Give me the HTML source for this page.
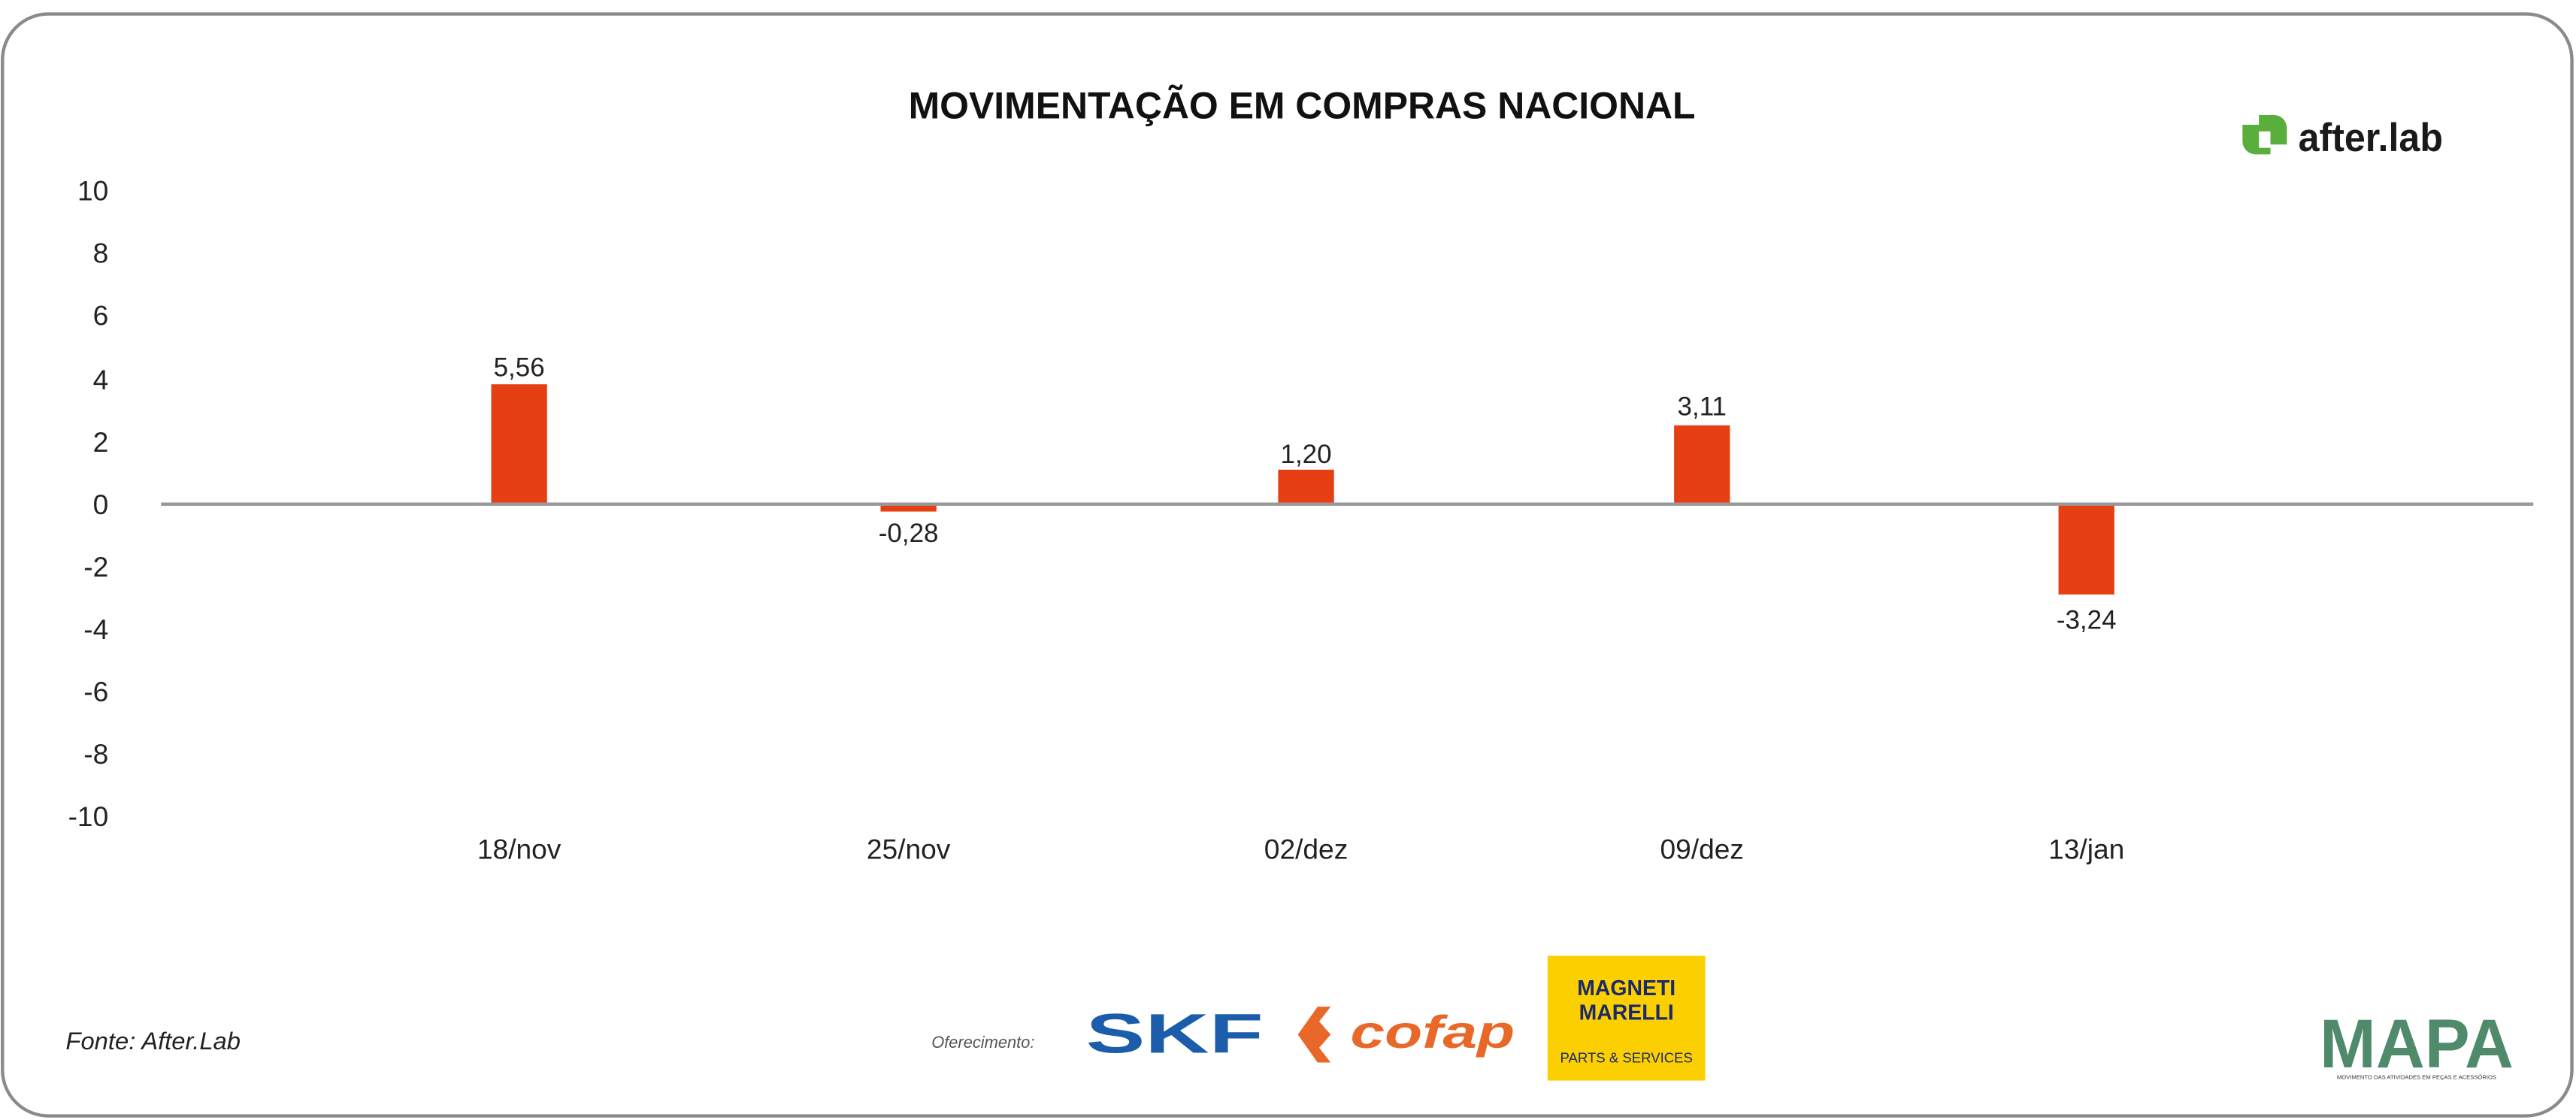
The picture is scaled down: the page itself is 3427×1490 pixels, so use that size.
<!DOCTYPE html>
<html><head><meta charset="utf-8"><style>
html,body{margin:0;padding:0;background:#fff;}
svg{display:block;}
text{font-family:"Liberation Sans",sans-serif;}
</style></head><body>
<svg width="3427" height="1490" viewBox="0 0 1568 682" preserveAspectRatio="none" xmlns="http://www.w3.org/2000/svg">
<rect x="1.5" y="8.5" width="1564" height="671" rx="28" ry="28" fill="#fff" stroke="#8a8a8a" stroke-width="2"/>
<text x="553" y="72" textLength="479" lengthAdjust="spacingAndGlyphs" font-size="23" font-weight="bold" fill="#111">MOVIMENTAÇÃO EM COMPRAS NACIONAL</text>
<g>
<path d="M1365 76 h10 v-6 h9 a8 8 0 0 1 8 8 v10 h-10 v6 h-9 a8 8 0 0 1 -8 -8 z" fill="#5aae3c"/>
<rect x="1375" y="80" width="7" height="10" fill="#fff"/>
<text x="1399" y="92" textLength="88" lengthAdjust="spacingAndGlyphs" font-size="24" font-weight="bold" fill="#1a1a1a">after.lab</text>
</g>
<g font-size="17" fill="#222" text-anchor="end">
<text x="66" y="122">10</text>
<text x="66" y="160">8</text>
<text x="66" y="198">6</text>
<text x="66" y="237">4</text>
<text x="66" y="275">2</text>
<text x="66" y="313">0</text>
<text x="66" y="351">-2</text>
<text x="66" y="389">-4</text>
<text x="66" y="427">-6</text>
<text x="66" y="465">-8</text>
<text x="66" y="503">-10</text>
</g>
<g fill="#e53f13">
<rect x="299" y="234" width="34" height="73"/>
<rect x="536" y="307" width="34" height="4.5"/>
<rect x="778" y="286" width="34" height="21"/>
<rect x="1019" y="259" width="34" height="48"/>
<rect x="1253" y="307" width="34" height="55"/>
</g>
<line x1="98" y1="307" x2="1542" y2="307" stroke="#999" stroke-width="2"/>
<g font-size="16" fill="#222" text-anchor="middle">
<text x="316" y="229">5,56</text>
<text x="553" y="330">-0,28</text>
<text x="795" y="282">1,20</text>
<text x="1036" y="253">3,11</text>
<text x="1270" y="383">-3,24</text>
</g>
<g font-size="17" fill="#222" text-anchor="middle">
<text x="316" y="523">18/nov</text>
<text x="553" y="523">25/nov</text>
<text x="795" y="523">02/dez</text>
<text x="1036" y="523">09/dez</text>
<text x="1270" y="523">13/jan</text>
</g>
<text x="40" y="639" font-size="15" font-style="italic" fill="#222">Fonte: After.Lab</text>
<text x="567" y="638" font-size="10" font-style="italic" fill="#555">Oferecimento:</text>
<text x="661" y="641" textLength="108" lengthAdjust="spacingAndGlyphs" font-size="34" font-weight="900" fill="#1b5cab">SKF</text>
<path d="M790 630 l12 -17 h8 l-7 9 l7 8 l-7 8 l7 9 h-8 z" fill="#e8682a"/>
<text x="822" y="638" textLength="100" lengthAdjust="spacingAndGlyphs" font-size="28" font-weight="bold" font-style="italic" fill="#e8682a">cofap</text>
<rect x="942" y="582" width="96" height="76" fill="#fcd000"/>
<text x="990" y="606" font-size="13" font-weight="bold" fill="#1c2a6b" text-anchor="middle">MAGNETI</text>
<text x="990" y="621" font-size="13" font-weight="bold" fill="#1c2a6b" text-anchor="middle">MARELLI</text>
<text x="990" y="647" font-size="8.5" fill="#1c2a6b" text-anchor="middle">PARTS &amp; SERVICES</text>
<text x="1412" y="650" textLength="118" lengthAdjust="spacingAndGlyphs" font-size="42" font-weight="bold" fill="#4f8a6a">MAPA</text>
<text x="1471" y="657" font-size="3.5" fill="#333" text-anchor="middle">MOVIMENTO DAS ATIVIDADES EM PEÇAS E ACESSÓRIOS</text>
</svg>
</body></html>
